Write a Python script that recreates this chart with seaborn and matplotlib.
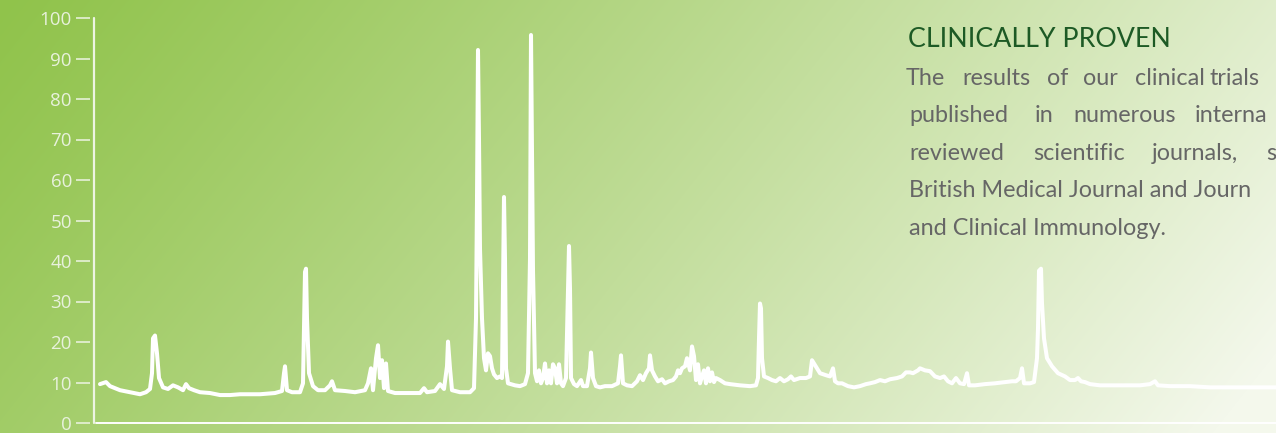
import numpy as np
import pandas as pd
import matplotlib
matplotlib.use("Agg")
import matplotlib.pyplot as plt
import seaborn as sns

# retention time (arbitrary units) and detector signal (%)
time = [
    6, 12, 16, 26, 36, 46, 52, 56, 58, 59,
    61, 63, 65, 69, 74, 79, 84, 89, 92, 95,
    100, 106, 116, 126, 136, 146, 156, 166, 181, 188,
    190, 191, 193, 198, 206, 209, 211, 212, 213, 215,
    219, 224, 231, 236, 238, 241, 251, 261, 271, 274,
    277, 279, 282, 284, 286, 288, 290, 292, 294, 301,
    316, 326, 330, 333, 341, 346, 350, 353, 354, 356,
    358, 366, 376, 380, 382, 383, 384, 385, 386, 388,
    390, 392, 394, 396, 398, 400, 403, 406, 408, 409,
    410, 411, 412, 414, 421, 426, 431, 434, 436, 437,
    438, 439, 441, 443, 445, 447, 449, 451, 453, 455,
    457, 459, 461, 463, 465, 467, 469, 472, 474, 475,
    476, 477, 480, 483, 487, 489, 493, 496, 497, 499,
    502, 506, 511, 518, 524, 526, 527, 529, 533, 538,
    543, 546, 549, 552, 555, 556, 558, 561, 564, 568,
    571, 575, 579, 582, 584, 586, 588, 591, 593, 596,
    598, 600, 602, 604, 606, 608, 610, 612, 614, 616,
    618, 620, 622, 626, 631, 636, 646, 656, 662, 664,
    665, 666, 667, 668, 670, 674, 678, 682, 686, 690,
    694, 697, 700, 706, 712, 716, 718, 720, 723, 726,
    732, 736, 739, 741, 744, 748, 754, 760, 766, 772,
    776, 781, 786, 791, 796, 803, 808, 812, 816, 819,
    824, 826, 831, 836, 841, 846, 850, 854, 858, 862,
    866, 870, 873, 875, 881, 891, 901, 911, 918, 922,
    926, 928, 930, 936, 940, 943, 944, 945, 947, 948,
    950, 953, 958, 964, 971, 976, 981, 984, 987, 991,
    996, 1006, 1016, 1026, 1036, 1046, 1056, 1061, 1064, 1076,
    1096, 1116, 1182,
]
signal = [
    9.6, 10.1, 9.1, 8.1, 7.6, 7.1, 7.6, 8.4, 12.3, 20.9,
    21.6, 17.2, 11.1, 8.8, 8.4, 9.3, 8.8, 8.1, 9.6, 8.6,
    8.1, 7.6, 7.4, 6.9, 6.9, 7.1, 7.1, 7.1, 7.4, 7.9,
    12.3, 14.0, 8.1, 7.6, 7.6, 9.8, 37.3, 38.1, 25.8, 12.3,
    9.1, 8.1, 8.1, 9.3, 10.3, 8.1, 7.9, 7.6, 8.1, 9.8,
    13.5, 8.1, 16.0, 19.2, 11.1, 15.5, 8.6, 14.7, 7.9, 7.4,
    7.4, 7.4, 8.6, 7.6, 7.9, 9.6, 8.4, 14.0, 20.1, 13.5,
    8.1, 7.6, 7.6, 8.6, 25.8, 55.3, 92.1, 70.0, 43.0, 25.8,
    16.0, 13.0, 17.2, 16.5, 13.5, 12.0, 11.1, 11.5, 11.1, 33.2,
    55.8, 40.5, 13.5, 9.8, 9.3, 9.1, 9.6, 12.3, 40.5, 95.8,
    66.3, 37.6, 12.3, 10.3, 13.0, 9.8, 11.1, 14.7, 9.8, 13.0,
    9.8, 14.5, 13.5, 9.8, 14.5, 9.8, 9.1, 11.1, 33.2, 43.7,
    33.2, 11.1, 9.6, 9.1, 10.6, 9.1, 9.1, 13.5, 17.4, 11.1,
    9.1, 8.8, 9.1, 9.1, 9.8, 14.0, 16.7, 9.8, 9.3, 9.1,
    10.3, 11.8, 10.6, 12.3, 13.5, 16.7, 13.0, 11.5, 10.3, 10.8,
    9.8, 10.3, 10.6, 11.5, 13.0, 12.3, 13.5, 14.0, 16.0, 13.0,
    18.9, 16.5, 10.6, 14.5, 9.8, 11.5, 13.0, 9.8, 13.5, 10.3,
    12.5, 10.1, 11.1, 10.6, 9.8, 9.6, 9.3, 9.1, 9.3, 11.1,
    20.9, 29.5, 28.3, 16.0, 11.5, 11.1, 10.6, 10.3, 11.1, 10.3,
    10.8, 11.5, 10.6, 11.1, 11.1, 11.5, 15.5, 14.7, 13.5, 12.3,
    11.8, 11.5, 13.5, 10.3, 9.8, 9.8, 9.1, 8.8, 9.1, 9.6,
    9.8, 10.1, 10.6, 10.3, 10.8, 11.1, 11.5, 12.5, 12.5, 12.3,
    13.0, 13.5, 13.0, 12.8, 11.5, 11.1, 11.5, 10.3, 9.8, 11.1,
    9.8, 9.6, 12.3, 9.3, 9.3, 9.6, 9.8, 10.1, 10.3, 10.3,
    11.1, 13.5, 9.8, 9.8, 10.1, 16.0, 23.3, 37.6, 38.1, 29.5,
    20.9, 16.0, 14.0, 12.3, 11.5, 10.6, 10.6, 11.1, 10.3, 10.1,
    9.6, 9.3, 9.3, 9.3, 9.3, 9.3, 9.6, 10.3, 9.3, 9.1,
    9.1, 8.8, 8.8,
]
y_ticks = [0, 10, 20, 30, 40, 50, 60, 70, 80, 90, 100]

heading = "CLINICALLY PROVEN"
# justified lines, cut at the right edge as in the source: (word, x pixel)
para_line1 = [("The", 906), ("results", 962), ("of", 1047), ("our", 1083), ("clinical", 1135), ("trials", 1210)]
para_line2 = [("published", 909), ("in", 1035), ("numerous", 1073), ("interna", 1195)]
para_line3 = [("reviewed", 909), ("scientific", 1033), ("journals,", 1152), ("s", 1266)]
para_line4 = "British Medical Journal and Journ"
para_line5 = "and Clinical Immunology."

W, H = 1276, 433

sns.set_style("white")
plt.rcParams["font.family"] = ["Open Sans", "DejaVu Sans"]

df = pd.DataFrame({"time": time, "signal": signal})

fig = plt.figure(figsize=(W / 100, H / 100), dpi=100)

# background gradient
bg = fig.add_axes([0, 0, 1, 1])
xx, yy = np.meshgrid(np.linspace(0, 1, W), np.linspace(0, 1, H))
s = np.clip(0.82 * xx + 0.22 * yy, 0, 1) ** 1.15
c0 = np.array([0x90, 0xc3, 0x4b]) / 255
c1 = np.array([0xf4, 0xf8, 0xec]) / 255
img = c0 + s[..., None] * (c1 - c0)
bg.imshow(img, aspect="auto", extent=[0, 1, 0, 1])
bg.set_axis_off()

# main axes: left edge at 90px so ticks end short of the axis line
ax = fig.add_axes([90 / W, 10 / H, (W - 90) / W, 405 / H])
ax.patch.set_alpha(0)
sns.lineplot(data=df, x="time", y="signal", ax=ax, color="white",
             linewidth=2.9, solid_joinstyle="round", solid_capstyle="round")

ax.set_xlim(-4, 1182)
ax.set_ylim(0, 100)
ax.set_xlabel("")
ax.set_ylabel("")
ax.set_xticks([])
ax.set_yticks(y_ticks)
for sp in ax.spines.values():
    sp.set_visible(False)

axis_col = "#edf4e3"
ax.axvline(0, color=axis_col, lw=1.6, clip_on=False)
ax.axhline(0, xmin=0.005, color="white", lw=1.4, clip_on=False)
ax.tick_params(axis="y", left=True, direction="out", length=10, width=1.1,
               color=axis_col, labelcolor="#e8f1dc", labelsize=13.5, pad=3)

# text block
tx = lambda px: px / W
ty = lambda py: 1 - py / H
fig.text(tx(908), ty(47), heading, family=["Lato", "DejaVu Sans"],
         fontsize=19.3, color="#1d5a25", va="baseline")
para_kw = dict(family=["Lato", "DejaVu Sans"], fontsize=16.8, color="#666666", va="baseline")
for line, py in [(para_line1, 85), (para_line2, 122), (para_line3, 160)]:
    for word, px in line:
        fig.text(tx(px), ty(py), word, **para_kw)
fig.text(tx(909), ty(197), para_line4, **para_kw)
fig.text(tx(909), ty(235), para_line5, **para_kw)

fig.savefig("out.png", dpi=100)
